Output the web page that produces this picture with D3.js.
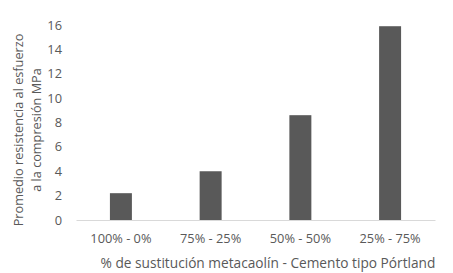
<!DOCTYPE html>
<html>
<head>
<meta charset="utf-8">
<script src="https://cdn.jsdelivr.net/npm/d3@7"></script>
<style>
  body { margin: 0; background: #fff; }
  text { font-family: "Open Sans", sans-serif; fill: #595959; }
</style>
</head>
<body>
<svg id="grafico" width="453" height="273"></svg>
<script>
// datos
const categorias = ["100% - 0%", "75% - 25%", "50% - 50%", "25% - 75%"];
const resistencia = [2.2, 4.0, 8.6, 15.9];
const ticksY = [0, 2, 4, 6, 8, 10, 12, 14, 16];

const svg = d3.select("#grafico");
const m = { left: 76, right: 18, top: 25, bottom: 53 };
const W = 453, H = 273;

const x = d3.scaleBand()
    .domain(categorias)
    .range([m.left, W - m.right])
    .paddingInner(0.755)
    .paddingOuter(0.378);

const y = d3.scaleLinear()
    .domain([0, 16])
    .range([H - m.bottom, m.top]);

// barras
svg.append("g")
    .selectAll("rect")
    .data(resistencia)
    .enter().append("rect")
    .attr("x", (d, i) => x(categorias[i]))
    .attr("y", d => y(d))
    .attr("width", x.bandwidth())
    .attr("height", d => y(0) - y(d))
    .attr("fill", "#595959");

// eje x
const ejeX = svg.append("g")
    .attr("transform", `translate(0,${y(0)})`)
    .call(d3.axisBottom(x).tickSize(0).tickPadding(14));
ejeX.select(".domain").attr("stroke", "#d9d9d9").attr("stroke-width", 1.2);
ejeX.selectAll("text").style("font-size", "12.8px").attr("fill", "#595959");

// eje y (sin linea)
const ejeY = svg.append("g")
    .attr("transform", `translate(${m.left - 14},0)`)
    .call(d3.axisLeft(y).tickValues(ticksY).tickSize(0).tickPadding(0));
ejeY.select(".domain").remove();
ejeY.selectAll("text").style("font-size", "12.8px").attr("fill", "#595959");

// titulos
svg.append("text")
    .attr("x", 268)
    .attr("y", 268)
    .attr("text-anchor", "middle")
    .style("font-size", "13.7px")
    .text("% de sustitución metacaolín - Cemento tipo Pórtland");

const tituloY = svg.append("text")
    .attr("transform", "translate(0,130) rotate(-90)")
    .attr("text-anchor", "middle")
    .style("font-size", "12.7px");
tituloY.append("tspan").attr("x", 0).attr("y", 23).text("Promedio resistencia al esfuerzo");
tituloY.append("tspan").attr("x", 0).attr("y", 41).text("a la compresión MPa");
</script>
</body>
</html>
